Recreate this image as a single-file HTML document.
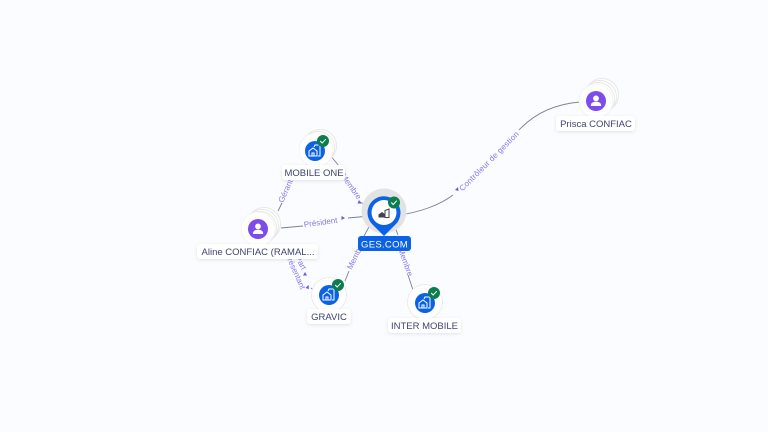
<!DOCTYPE html>
<html><head><meta charset="utf-8">
<style>
html,body{margin:0;padding:0;width:768px;height:432px;overflow:hidden;background:#fbfcff}
svg{display:block}
text{font-family:"Liberation Sans",sans-serif}
.lbl{font-size:9.5px;fill:#3f4470;text-anchor:middle}
.e{font-size:8px;fill:#8577e8;text-anchor:middle}
.ln{fill:none;stroke:#7b7f96;stroke-width:.9}
.w{fill:#fff;stroke:#e8e8e6;stroke-width:1}
.pill{fill:#fff;filter:url(#s)}
</style></head><body>
<svg width="768" height="432" viewBox="0 0 768 432" xmlns="http://www.w3.org/2000/svg">
<defs>
<filter id="s" x="-20%" y="-40%" width="140%" height="200%"><feDropShadow dx="0" dy="1" stdDeviation="1.5" flood-color="#8088a8" flood-opacity=".22"/></filter>
<g id="chk"><circle r="6" fill="#0b7d4e"/><path d="M-2.8 0l2 2 3.6-3.8" fill="none" stroke="#fff" stroke-width="1"/></g>
<g id="bld" fill="none" stroke="#fff" stroke-width="1"><path d="M-6 5v-5l4-3 4 3v5zM-3 5v-3h2v3"/><path d="M-1-4l1-2h5v11h-2"/></g>
<g id="per"><circle cy="-2.6" r="2.9" fill="#fff"/><path d="M-5.2 5c0-3 2-4.200 5.200-4.200s5.200 1.200 5.200 4.200z" fill="#fff"/></g>
</defs>

<!-- connectors -->
<path class="ln" d="M330 155L339 166"/>
<path class="ln" d="M360 202L372 208"/>
<path class="ln" d="M278 211L282 203"/>
<path class="ln" d="M293 180L299 168"/>
<path class="ln" d="M281 228L303 226"/>
<path class="ln" d="M348 218L370 216"/>
<path class="ln" d="M274 245L284 256"/>
<path class="ln" d="M311 288L314 290"/>
<path class="ln" d="M345 281L349 271"/>
<path class="ln" d="M370 225L364 236"/>
<path class="ln" d="M395 227L398 235"/>
<path class="ln" d="M408 275L413 290"/>
<path class="ln" d="M400 215C420 212 440 205 453 195"/>
<path class="ln" d="M519 130C535 113 555 104 580 102"/>

<!-- arrowheads -->
<g fill="#6a58e0">
<path d="M359 200l2.500 3.500-4 0z"/>
<path d="M345 218l-3.500 2v-4z"/>
<path d="M458 187l.5 4-3.500-1z"/>
<path d="M305 272l2 3.500-4 0z"/>
<path d="M309 289l-.5-4-3 3z"/>
</g>

<!-- edge labels -->
<text class="e" transform="translate(288 192) rotate(-66)">Gérant</text>
<text class="e" transform="translate(349 188) rotate(55)">Membre</text>
<text class="e" transform="translate(321 225) rotate(-8)">Président</text>
<text class="e" letter-spacing=".2" transform="translate(491 163) rotate(-45)">Contrôleur de gestion</text>
<text class="e" transform="translate(298.500 264) rotate(62)">Part</text>
<text class="e" transform="translate(291 268) rotate(66)">Représentant</text>
<text class="e" transform="translate(358 257) rotate(-64)">Membre</text>
<text class="e" transform="translate(403 263) rotate(70)">Membre</text>

<!-- GES.COM -->
<circle cx="384" cy="211" r="22.500" fill="#e3e3e4"/>
<path d="M384 236L373 225A16.500 16.500 0 1 1 395 225Z" fill="#0b62e6"/>
<circle cx="384" cy="212.500" r="12.500" fill="#fff"/>
<g fill="none" stroke="#3f4156" stroke-width="1"><path d="M385 217.500v-7l4-1.500v8.500z"/></g>
<path d="M378.500 217.500v-3l3.500-2.500 3.500 2.500v3z" fill="#3f4156"/>
<use href="#chk" x="394" y="202.500"/>
<rect x="358" y="236" width="53" height="15" rx="3" fill="#0b62e6"/>
<text x="384.500" y="247.300" font-size="9.500" fill="#fff" text-anchor="middle" letter-spacing=".3">GES.COM</text>

<!-- MOBILE ONE -->
<circle class="w" cx="320" cy="146" r="16.500"/>
<circle class="w" cx="318" cy="148" r="16.500"/>
<circle cx="316" cy="150" r="17" fill="#fff" stroke="#eee" stroke-width=".6"/>
<circle cx="315" cy="151" r="10" fill="#0b62e6"/>
<use href="#bld" x="315" y="151"/>
<use href="#chk" x="323" y="141"/>
<rect class="pill" x="282" y="165" width="63" height="15" rx="3"/>
<text class="lbl" x="314" y="176">MOBILE ONE</text>

<!-- Aline -->
<circle class="w" cx="264" cy="224" r="16.500"/>
<circle class="w" cx="262" cy="226" r="16.500"/>
<circle class="w" cx="260" cy="228" r="16.500"/>
<circle cx="258" cy="229" r="17" fill="#fff" stroke="#eee" stroke-width=".6"/>
<circle cx="258" cy="229" r="10" fill="#7c4dea"/>
<use href="#per" x="258" y="229"/>
<rect class="pill" x="197" y="244" width="121" height="15" rx="3"/>
<text class="lbl" x="258" y="255">Aline CONFIAC (RAMAL...</text>

<!-- GRAVIC -->
<circle cx="329" cy="295" r="17.500" fill="#fff" stroke="#e8e8e8" stroke-width=".8"/>
<circle cx="329" cy="295" r="10" fill="#0b62e6"/>
<use href="#bld" x="329" y="295"/>
<use href="#chk" x="338" y="285"/>
<rect class="pill" x="307" y="309" width="44" height="15" rx="3"/>
<text class="lbl" x="329" y="320">GRAVIC</text>

<!-- INTER MOBILE -->
<circle cx="425" cy="302" r="17.500" fill="#fff" stroke="#e8e8e8" stroke-width=".8"/>
<circle cx="425" cy="303" r="10" fill="#0b62e6"/>
<use href="#bld" x="425" y="303"/>
<use href="#chk" x="434" y="293"/>
<rect class="pill" x="388" y="318" width="73" height="15" rx="3"/>
<text class="lbl" x="424.500" y="329">INTER MOBILE</text>

<!-- Prisca -->
<circle class="w" cx="602" cy="95" r="16.500"/>
<circle class="w" cx="600" cy="97" r="16.500"/>
<circle class="w" cx="598" cy="99" r="16.500"/>
<circle cx="596" cy="101" r="17" fill="#fff" stroke="#eee" stroke-width=".6"/>
<circle cx="596" cy="101" r="10" fill="#7c4dea"/>
<use href="#per" x="596" y="101"/>
<rect class="pill" x="556" y="116" width="79" height="15" rx="3"/>
<text class="lbl" x="596" y="127">Prisca CONFIAC</text>
</svg>
</body></html>
